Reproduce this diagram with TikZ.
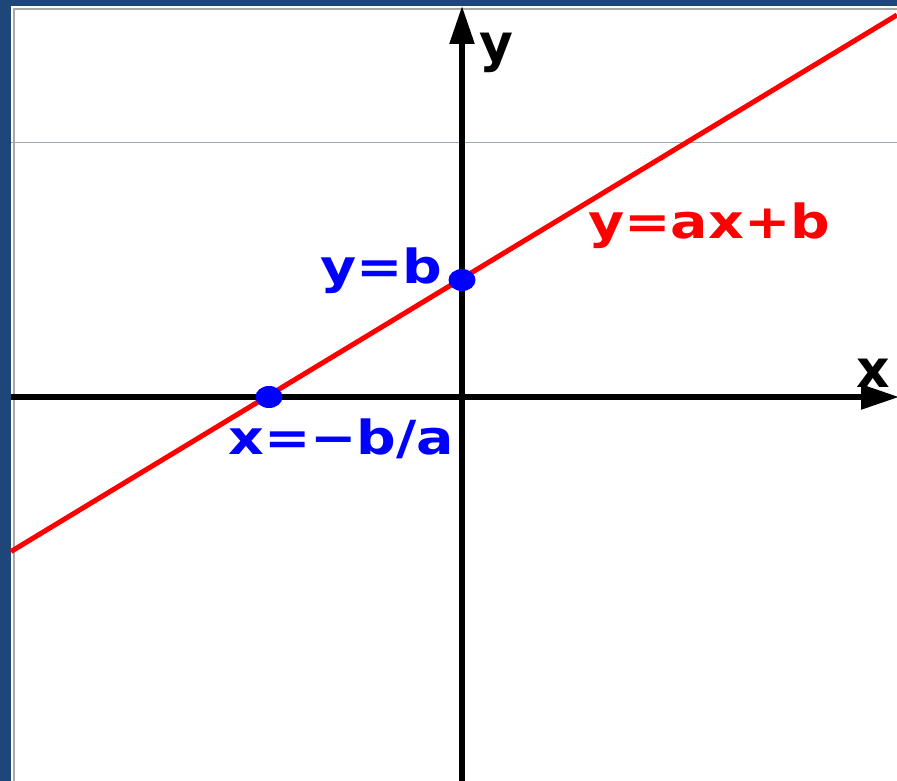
\documentclass[tikz,border=0pt]{standalone}
\usepackage{fontspec}
\setmainfont{DejaVu Sans}
\usetikzlibrary{arrows.meta,shapes.geometric}
\definecolor{frameblue}{HTML}{1F4679}
\definecolor{gridgray}{HTML}{9AA8B8}
\definecolor{edgegray}{HTML}{A8A8A8}
\tikzset{
  axis/.style={line width=5.5pt, draw=black, -{Triangle[length=38pt,width=24pt]}},
  graph/.style={line width=5pt, draw=red},
  dot/.style={shape=ellipse, fill=blue, draw=none, minimum width=27pt, minimum height=22pt, inner sep=0pt},
  axlbl/.style={anchor=base west, inner sep=0pt, font=\fontsize{52}{52}\selectfont\bfseries, text=black},
  lbl/.style={anchor=base west, inner sep=0pt, font=\fontsize{47}{47}\selectfont\bfseries, xscale=1.18, transform shape}
}
\begin{document}
\begin{tikzpicture}[x=1pt,y=-1pt]
\useasboundingbox (0,0) rectangle (897,781);
% frame
\fill[frameblue] (0,0) rectangle (897,781);
\fill[white] (11,6.5) rectangle (897,781);
\draw[edgegray, line width=2pt] (13.5,781) -- (13.5,9) -- (897,9);
% grid line
\draw[gridgray, line width=1pt] (11,143) -- (897,143);
% axes
\coordinate (xl) at (11,397);
\coordinate (xr) at (899,397);
\coordinate (yb) at (462,781);
\coordinate (yt) at (462,6);
\draw[axis] (xl) -- (xr);
\draw[axis] (yb) -- (yt);
% line y=ax+b
\coordinate (la) at (11,551.5);
\coordinate (lb) at (897,15);
\draw[graph] (la) -- (lb);
% points
\node[dot] (px) at (269,397) {};
\node[dot] (py) at (462,280) {};
% labels
\node[axlbl] (ylab) at (479,62) {y};
\node[axlbl] (xlab) at (856,387) {x};
\node[lbl, text=blue] (yb lab) at (320,283) {y=b};
\node[lbl, text=blue] (xb lab) at (228,454) {x=−b/a};
\node[lbl, text=red] (eq lab) at (588,238) {y=ax+b};
\end{tikzpicture}
\end{document}
